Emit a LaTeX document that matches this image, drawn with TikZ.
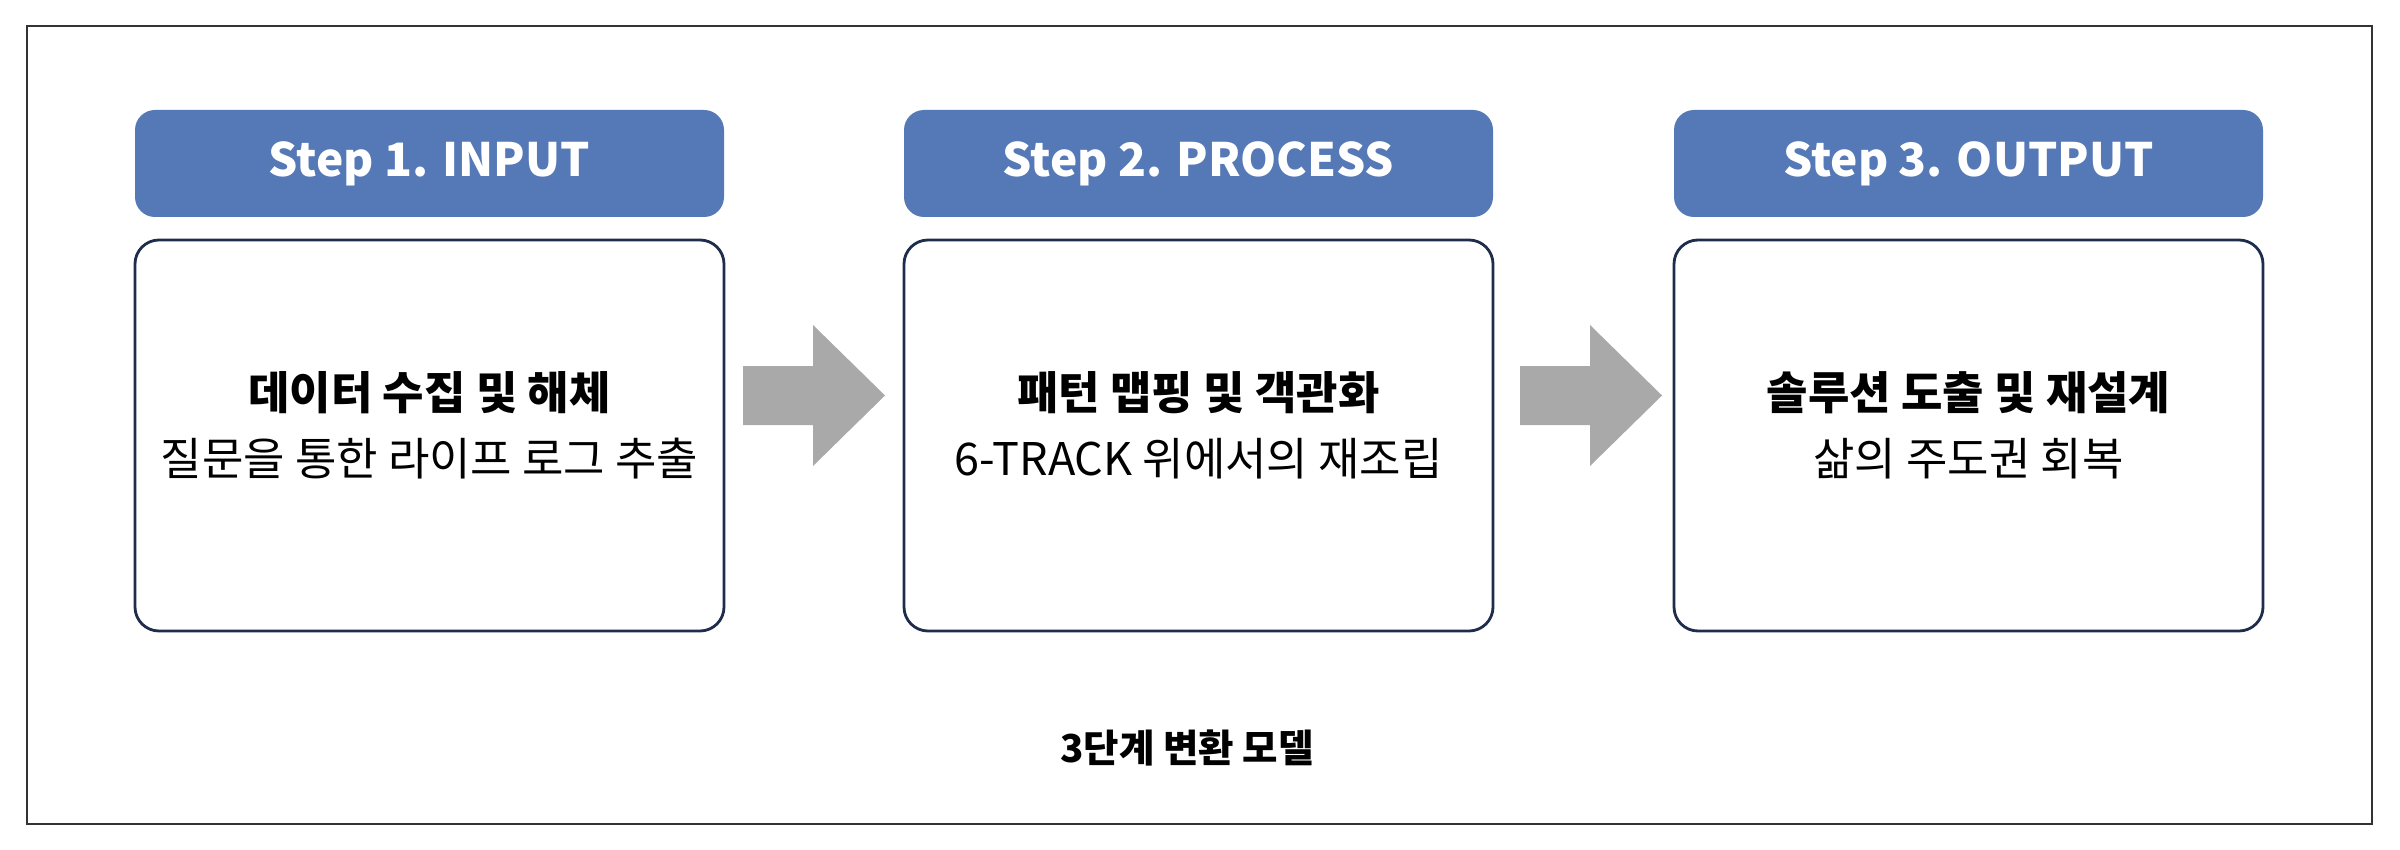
\documentclass[tikz,border=0pt]{standalone}
\usepackage{fontspec}
\setmainfont{Noto Sans CJK KR}
\definecolor{hdrblue}{HTML}{5578B6}
\definecolor{navy}{HTML}{1F2D4D}
\definecolor{arrowgray}{HTML}{A9A9A9}
\definecolor{framegray}{HTML}{333333}
\tikzset{
  hdr/.style={fill=hdrblue, rounded corners=20pt, minimum width=589pt, minimum height=107pt, inner sep=0pt,
    text=white, font=\bfseries\fontsize{46}{54}\selectfont},
  card/.style={draw=navy, line width=2.8pt, fill=white, rounded corners=24pt, minimum width=589pt, minimum height=391pt, inner sep=0pt},
  ttl/.style={font=\bfseries\fontsize{45}{54}\selectfont, text=black, inner sep=0pt},
  sub/.style={font=\fontsize{45}{54}\selectfont, text=black, inner sep=0pt},
  captext/.style={font=\bfseries\fontsize{38.5}{46}\selectfont, text=black, inner sep=0pt},
}
\newcommand\blockarrow[1]{\fill[arrowgray] (#1) ++(0,-29.5) -- ++(70,0) -- ++(0,-41) -- ++(72,70.5) -- ++(-72,70.5) -- ++(0,-41) -- ++(-70,0) -- cycle;}
\begin{document}
\begin{tikzpicture}[x=1pt,y=-1pt]
\useasboundingbox (0,0) rectangle (2400,850);
\fill[white] (0,0) rectangle (2400,850);
\draw[framegray, line width=1.5pt] (27,26) rectangle (2372,824);
% step 1
\node[hdr] (h1) at (429.5,163.5) {Step 1. INPUT};
\node[card] (c1) at (429.5,435.5) {};
\node[ttl] (t1) at (429.5,393) {데이터 수집 및 해체};
\node[sub] (s1) at (429.5,459) {질문을 통한 라이프 로그 추출};
% step 2
\node[hdr] (h2) at (1198.5,163.5) {Step 2. PROCESS};
\node[card] (c2) at (1198.5,435.5) {};
\node[ttl] (t2) at (1198.5,393) {패턴 맵핑 및 객관화};
\node[sub] (s2) at (1198.5,459) {6-TRACK 위에서의 재조립};
% step 3
\node[hdr] (h3) at (1968.5,163.5) {Step 3. OUTPUT};
\node[card] (c3) at (1968.5,435.5) {};
\node[ttl] (t3) at (1968.5,393) {솔루션 도출 및 재설계};
\node[sub] (s3) at (1968.5,459) {삶의 주도권 회복};
% arrows
\coordinate (a1) at (743,395.5);
\coordinate (a2) at (1520,395.5);
\blockarrow{a1}
\blockarrow{a2}
% caption
\node[captext] (captn) at (1187,748) {3단계 변환 모델};
\end{tikzpicture}
\end{document}
